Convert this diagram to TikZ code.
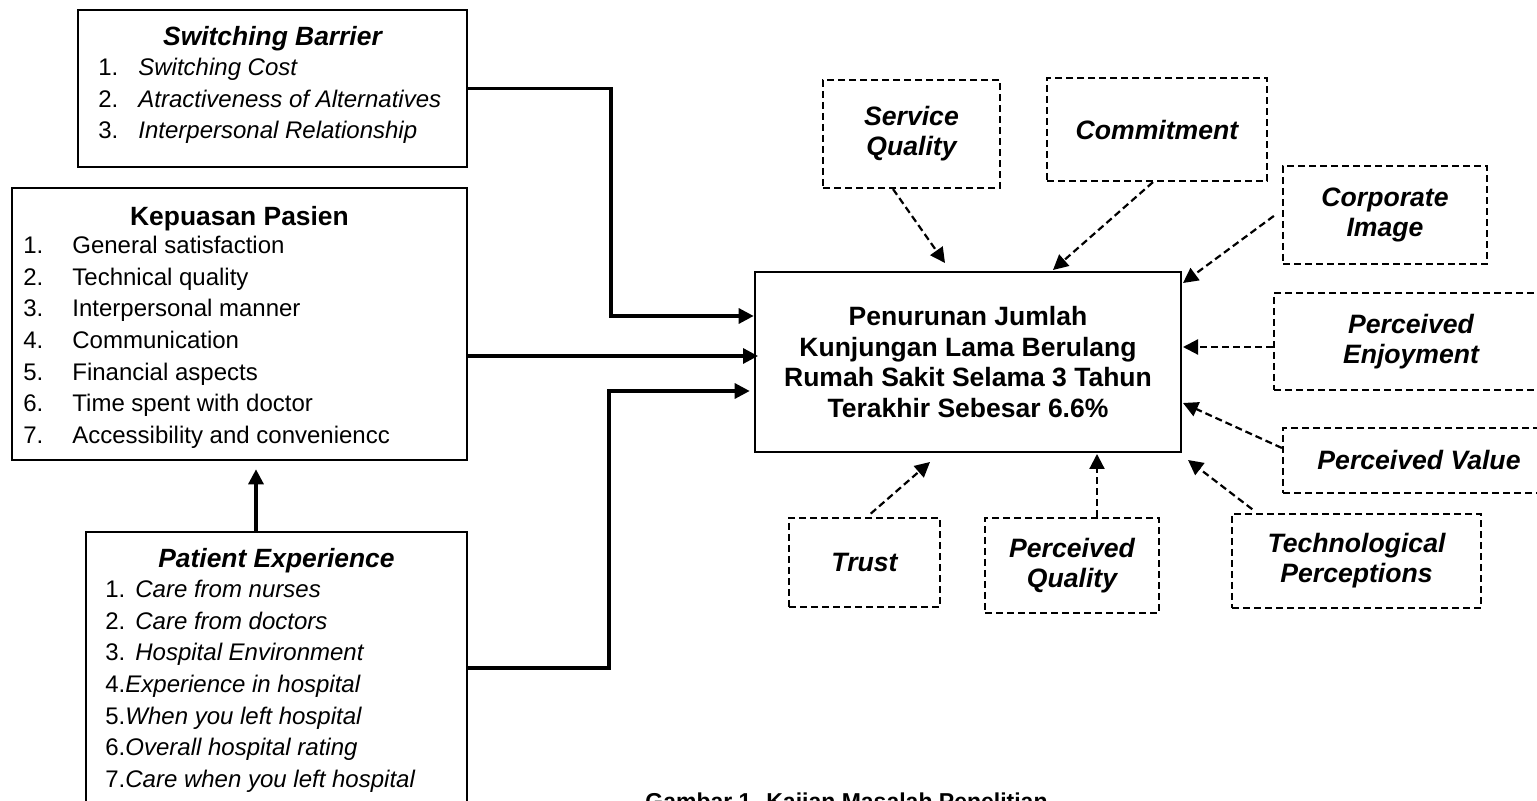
\documentclass[tikz,border=0pt]{standalone}
\usepackage{fontspec}
\setmainfont{Liberation Sans}
\usetikzlibrary{arrows.meta}

\tikzset{
	solidbox/.style={draw, line width=1.3pt, inner sep=0pt},
	dashbox/.style={draw, line width=1.1pt, dash pattern=on 3.5pt off 2pt, inner sep=0pt, align=center, font=\fontsize{13.3}{15}\selectfont\bfseries\itshape},
	solidarrow/.style={line width=1.6pt, -{Triangle[length=7.5pt,width=7.5pt]}},
	dasharrow/.style={line width=1.1pt, dash pattern=on 3.5pt off 2pt, -{Triangle[length=7.5pt,width=7.5pt]}},
	headtext/.style={anchor=base, inner sep=0pt, font=\fontsize{13.2}{15.5}\selectfont\bfseries},
	listtext/.style={anchor=north west, inner sep=0pt, font=\fontsize{12}{15.85}\selectfont}
}

\begin{document}
\begin{tikzpicture}[x=0.5pt, y=-0.5pt]
		\useasboundingbox (0,0) rectangle (1537,801);
		
		% Left boxes
		\node[solidbox, minimum width=194.5pt, minimum height=78.5pt] (barrier) at (272.5,88.5) {};
		\node[headtext, font=\fontsize{13.2}{15.5}\selectfont\bfseries\itshape] (barrierhead) at (272.5,46) {Switching Barrier};
		\node[listtext] (barrierlist) at (98,52.8) {\begin{tabular}{@{}p{20pt}@{}l@{}}
			1. & \textit{Switching Cost}\\
			2. & \textit{Atractiveness of Alternatives}\\
			3. & \textit{Interpersonal Relationship}
		\end{tabular}};
		
		\node[solidbox, minimum width=227.5pt, minimum height=136pt] (kepuasan) at (239.5,324) {};
		\node[headtext] (kepuasanhead) at (239.5,226) {Kepuasan Pasien};
		\node[listtext] (kepuasanlist) at (23,230.8) {\begin{tabular}{@{}p{24.5pt}@{}l@{}}
			1. & General satisfaction\\
			2. & Technical quality\\
			3. & Interpersonal manner\\
			4. & Communication\\
			5. & Financial aspects\\
			6. & Time spent with doctor\\
			7. & Accessibility and conveniencc
		\end{tabular}};
		
		\node[solidbox, minimum width=190.5pt, minimum height=141.5pt] (experience) at (276.5,673.5) {};
		\node[headtext, font=\fontsize{13.2}{15.5}\selectfont\bfseries\itshape] (experiencehead) at (276.5,568) {Patient Experience};
		\node[listtext] (experiencelist) at (105,574.8) {\begin{tabular}{@{}p{15pt}@{}l@{}}
			1. & \textit{Care from nurses}\\
			2. & \textit{Care from doctors}\\
			3. & \textit{Hospital Environment}\\
			\multicolumn{2}{@{}l@{}}{4.\textit{Experience in hospital}}\\
			\multicolumn{2}{@{}l@{}}{5.\textit{When you left hospital}}\\
			\multicolumn{2}{@{}l@{}}{6.\textit{Overall hospital rating}}\\
			\multicolumn{2}{@{}l@{}}{7.\textit{Care when you left hospital}}
		\end{tabular}};
		
		% Main problem
		\node[solidbox, minimum width=213pt, minimum height=90pt, align=center, font=\fontsize{13.25}{15.25}\selectfont\bfseries] (penurunan) at (968,362) {Penurunan Jumlah\\Kunjungan Lama Berulang\\Rumah Sakit Selama 3 Tahun\\Terakhir Sebesar 6.6\%};
		
		% Other factors
		\node[dashbox, minimum width=88.5pt, minimum height=54pt] (service) at (911.5,134) {Service\\Quality};
		\node[dashbox, minimum width=110pt, minimum height=51.5pt] (commit) at (1157,129.5) {Commitment};
		\node[dashbox, minimum width=102pt, minimum height=49pt] (corporate) at (1385,215) {Corporate\\Image};
		\node[dashbox, minimum width=137pt, minimum height=48.5pt] (enjoy) at (1411,341.5) {Perceived\\Enjoyment};
		\node[dashbox, minimum width=136pt, minimum height=32.5pt] (pvalue) at (1419,460.5) {Perceived Value};
		\node[dashbox, minimum width=124.5pt, minimum height=47pt] (techno) at (1356.5,561) {Technological\\Perceptions};
		\node[dashbox, minimum width=75.5pt, minimum height=44.5pt] (trust) at (864.5,562.5) {Trust};
		\node[dashbox, minimum width=87pt, minimum height=47.5pt] (pquality) at (1072,565.5) {Perceived\\Quality};
		
		% Arrow ends
		\coordinate (bendA) at (611,316);
		\coordinate (bendC) at (609,391);
		\coordinate (inB) at (758,356);
		\coordinate (upx) at (256,0);
		\coordinate (tipSQ) at (945,263);
		\coordinate (tipCM) at (1053,270);
		\coordinate (tipCI) at (1183,283);
		\coordinate (tipPE) at (1183,347);
		\coordinate (tipPV) at (1183,403);
		\coordinate (tipTP) at (1188,460);
		\coordinate (tipTR) at (930,462);
		\coordinate (tipPQ) at (1097,454);
		
		% Solid connectors
		\draw[solidarrow] (barrier.east) -| (bendA) -- (bendA -| penurunan.west);
		\draw[solidarrow] (kepuasan.east |- inB) -- (inB);
		\draw[solidarrow] (experience.east |- 0,668) -| (bendC) -- ([xshift=-2pt]bendC -| penurunan.west);
		\draw[solidarrow, shorten >=4pt] (experience.north -| upx) -- (kepuasan.south -| upx);
		
		% Dashed connectors
		\draw[dasharrow] (service.south -| 893,0) -- (tipSQ);
		\draw[dasharrow] (commit.south -| 1153,0) -- (tipCM);
		\draw[dasharrow, shorten <=5pt] (corporate.west |- 0,210) -- (tipCI);
		\draw[dasharrow] (enjoy.west |- 0,347) -- (tipPE);
		\draw[dasharrow] (pvalue.west |- 0,448) -- (tipPV);
		\draw[dasharrow, shorten <=3pt] (techno.north -| 1257,0) -- (tipTP);
		\draw[dasharrow, shorten <=2.5pt] (trust.north -| 867,0) -- (tipTR);
		\draw[dasharrow] (pquality.north -| 1097,0) -- (tipPQ);
		
		% Caption
		\node[anchor=base east, inner sep=0pt, font=\fontsize{11.5}{14}\selectfont\bfseries] (caption) at (1048,809) {Gambar 1. Kajian Masalah Penelitian};
		
	\end{tikzpicture}
\end{document}
